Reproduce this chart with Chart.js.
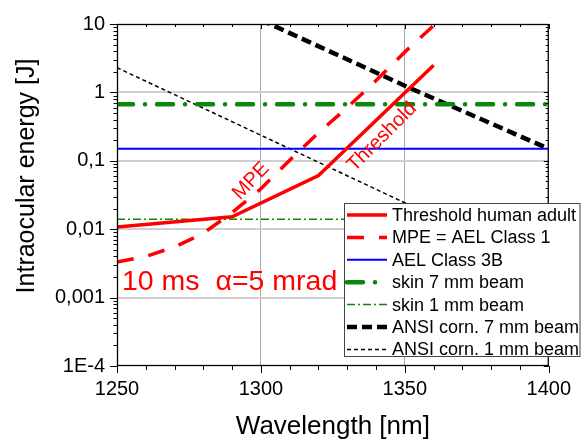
<!DOCTYPE html>
<html><head><meta charset="utf-8">
<script src="https://cdn.jsdelivr.net/npm/chart.js@4.4.1/dist/chart.umd.min.js"></script>
<style>html,body{margin:0;padding:0;background:#fff}#wrap{width:582px;height:440px}</style>
</head><body><div id="wrap"><canvas id="c" width="582" height="440"></canvas></div>
<script>
// ---- data ----
const thresholdX = [1250, 1290, 1320, 1360];
const thresholdY = [0.0108, 0.0152, 0.061, 2.5];
const mpeX = [1250, 1260, 1270, 1280, 1290, 1300, 1310, 1320, 1330, 1340, 1350, 1360];
const mpeY = [0.0033, 0.0040, 0.0055, 0.0087, 0.0175, 0.039, 0.102, 0.257, 0.60, 1.49, 3.9, 9.5];
const class3bX = [1250, 1400];
const class3bY = [0.15, 0.15];
const skin7X = [1250, 1400];
const skin7Y = [0.67, 0.67];
const skin1X = [1250, 1400];
const skin1Y = [0.014, 0.014];
const ansi7X = [1300, 1350, 1400];
const ansi7Y = [11.5, 1.25, 0.15];
const ansi1X = [1250, 1400];
const ansi1Y = [2.3, 0.0025];
const seriesLabels = ['Threshold human adult', 'MPE = AEL Class 1', 'AEL Class 3B', 'skin 7 mm beam', 'skin 1 mm beam', 'ANSI corn. 7 mm beam', 'ANSI corn. 1 mm beam'];
const xTickValues = [1250, 1300, 1350, 1400];
const xTickLabels = ['1250', '1300', '1350', '1400'];
const yTickValues = [1e-4, 1e-3, 1e-2, 0.1, 1, 10];
const yTickLabels = ['1E-4', '0,001', '0,01', '0,1', '1', '10'];
const xTitle = 'Wavelength [nm]';
const yTitle = 'Intraocular energy [J]';
const noteText = '10 ms  \u03B1=5 mrad';

const FONT = '"Liberation Sans", Arial, sans-serif';
const pts = (xs, ys) => xs.map((x, i) => ({x: x, y: ys[i]}));
const GREEN = '#0b870b';

function ds(label, xs, ys, color, width, dash, cap) {
  return {label: label, data: pts(xs, ys), borderColor: color, backgroundColor: color,
    borderWidth: width, borderDash: dash || [], borderCapStyle: cap || 'butt',
    pointRadius: 0, tension: 0, fill: false};
}

const datasets = [
  ds(seriesLabels[0], thresholdX, thresholdY, '#ff0000', 3.5),
  ds(seriesLabels[1], mpeX, mpeY, '#ff0000', 3.5, [17, 15]),
  ds(seriesLabels[2], class3bX, class3bY, '#0000ff', 2),
  ds(seriesLabels[3], skin7X, skin7Y, GREEN, 4.5, [16, 12, 0.01, 12], 'round'),
  ds(seriesLabels[4], skin1X, skin1Y, GREEN, 1.5, [8, 3, 2, 3]),
  ds(seriesLabels[5], ansi7X, ansi7Y, '#000000', 4.5, [10, 5]),
  ds(seriesLabels[6], ansi1X, ansi1Y, '#000000', 1.5, [4, 3])
];

const decor = {
  id: 'decor',
  afterDatasetsDraw(chart) {
    const ctx = chart.ctx, a = chart.chartArea;
    const xs = chart.scales.x, ys = chart.scales.y;
    ctx.save();
    // frame
    ctx.strokeStyle = '#000'; ctx.lineWidth = 1.3; ctx.setLineDash([]);
    ctx.strokeRect(a.left + 0.5, a.top + 0.5, a.right - a.left - 1, a.bottom - a.top - 1);
    ctx.lineWidth = 1;
    ctx.beginPath();
    // x ticks every 10 nm
    for (let v = 1250; v <= 1400; v += 10) {
      const px = Math.round(xs.getPixelForValue(v)) + 0.5;
      const major = (v % 50 === 0);
      ctx.moveTo(px, a.bottom); ctx.lineTo(px, a.bottom + (major ? 7 : 4));
      ctx.moveTo(px, a.top); ctx.lineTo(px, a.top + (major ? 5 : 3));
    }
    // y ticks
    for (let e = -4; e <= 1; e++) {
      for (let m = 1; m <= 9; m++) {
        const v = m * Math.pow(10, e);
        if (v > 10.0001) break;
        const py = Math.round(ys.getPixelForValue(v)) + 0.5;
        const major = (m === 1);
        ctx.moveTo(a.left, py); ctx.lineTo(a.left - (major ? 7 : 3.5), py);
        ctx.moveTo(a.right, py); ctx.lineTo(a.right - (major ? 5 : 3), py);
      }
    }
    ctx.stroke();

    // annotations
    ctx.fillStyle = '#ff0000';
    ctx.font = '20px ' + FONT;
    ctx.textAlign = 'center'; ctx.textBaseline = 'middle';
    ctx.save(); ctx.translate(251, 181); ctx.rotate(-46 * Math.PI / 180); ctx.fillText('MPE', 0, 0); ctx.restore();
    ctx.save(); ctx.translate(382, 137); ctx.rotate(-45 * Math.PI / 180); ctx.fillText('Threshold', 0, 0); ctx.restore();
    ctx.font = '28.5px ' + FONT;
    ctx.textAlign = 'left'; ctx.textBaseline = 'alphabetic';
    ctx.fillText(noteText, 122, 290);

    // axis titles
    ctx.fillStyle = '#000';
    ctx.font = '26px ' + FONT;
    ctx.textAlign = 'center'; ctx.textBaseline = 'alphabetic';
    ctx.fillText(xTitle, (a.left + a.right) / 2, 434);
    ctx.save(); ctx.translate(34, 176); ctx.rotate(-Math.PI / 2);
    ctx.font = '25px ' + FONT;
    ctx.fillText(yTitle, 0, 0); ctx.restore();

    // legend
    const L = 344.5, T = 203.5, R = 580, B = 356.5;
    ctx.fillStyle = '#fff'; ctx.fillRect(L, T, R - L, B - T);
    ctx.strokeStyle = '#444'; ctx.lineWidth = 1; ctx.strokeRect(L, T, R - L, B - T);
    ctx.font = '18px ' + FONT;
    ctx.textAlign = 'left'; ctx.textBaseline = 'middle';
    chart.data.datasets.forEach((d, i) => {
      const y = 215 + i * 22.4;
      ctx.save();
      ctx.strokeStyle = d.borderColor; ctx.lineWidth = d.borderWidth;
      ctx.setLineDash(d.borderDash); ctx.lineCap = d.borderCapStyle;
      ctx.beginPath(); ctx.moveTo(347, y); ctx.lineTo(387, y); ctx.stroke();
      ctx.restore();
      ctx.fillStyle = '#000';
      ctx.fillText(d.label, 392, y + 1);
    });
    ctx.restore();
  }
};

new Chart(document.getElementById('c'), {
  type: 'line',
  data: {datasets: datasets},
  options: {
    responsive: false, animation: false, devicePixelRatio: 1,
    layout: {padding: {left: 0, top: 19, right: 33, bottom: 0}},
    plugins: {legend: {display: false}, tooltip: {enabled: false}},
    scales: {
      x: {
        type: 'linear', min: 1250, max: 1400,
        afterBuildTicks: s => { s.ticks = xTickValues.map(v => ({value: v})); },
        afterFit: s => { s.height = 74; },
        ticks: {callback: (v, i) => xTickLabels[i], color: '#000', font: {size: 20, family: FONT}, padding: 11, maxRotation: 0},
        grid: {drawTicks: false, color: c => (c.tick && (c.tick.value === 1300 || c.tick.value === 1350)) ? '#a8a8a8' : 'rgba(0,0,0,0)', lineWidth: 1},
        border: {display: false}
      },
      y: {
        type: 'logarithmic', min: 1e-4, max: 10,
        afterBuildTicks: s => { s.ticks = yTickValues.map(v => ({value: v})); },
        afterFit: s => { s.width = 117; },
        ticks: {callback: (v, i) => yTickLabels[i], color: '#000', font: {size: 20, family: FONT}, padding: 12},
        grid: {drawTicks: false, color: c => (c.tick && c.tick.value > 2e-4 && c.tick.value < 5) ? '#cfcfcf' : 'rgba(0,0,0,0)', lineWidth: 2},
        border: {display: false}
      }
    }
  },
  plugins: [decor]
});
</script></body></html>
